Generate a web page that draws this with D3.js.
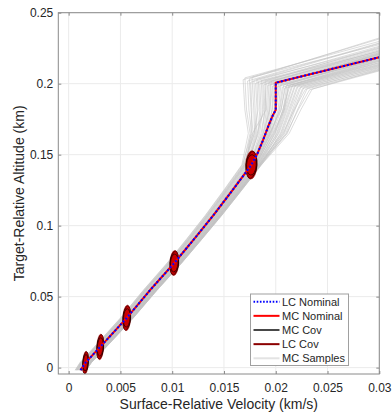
<!DOCTYPE html>
<html>
<head>
<meta charset="utf-8">
<script src="https://cdn.jsdelivr.net/npm/d3@7"></script>
<style>
  html, body { margin: 0; padding: 0; background: #fff; }
  svg { display: block; font-family: "Liberation Sans", Arial, Helvetica, sans-serif; }
</style>
</head>
<body>
<svg id="chart" width="392" height="417"></svg>
<script>
// ---- Data -----------------------------------------------------------------
// Nominal descent trajectory (surface-relative velocity km/s, target-relative altitude km)
const nomVel = [0.00115, 0.00163, 0.00305, 0.00561, 0.00788, 0.01020, 0.01209, 0.01397, 0.01581, 0.01765,
                0.01823, 0.01876, 0.01929, 0.01973, 0.02000, 0.02000, 0.03000];
const nomAlt = [-0.0018, 0.0035, 0.0146, 0.0350, 0.0547, 0.0737, 0.0903, 0.1072, 0.1248, 0.1428,
                0.1508, 0.1600, 0.1702, 0.1780, 0.1815, 0.2007, 0.2186];

// Covariance ellipse centres and half-widths
const covVel  = [0.00163, 0.00305, 0.00561, 0.01020, 0.01765];
const covAlt  = [0.0035, 0.0146, 0.0350, 0.0737, 0.1428];
const covSigV = [0.00027, 0.00033, 0.00038, 0.00043, 0.00055];
const covSigH = [0.0080, 0.0090, 0.0090, 0.0088, 0.0100];
// Layers drawn at every covariance point (relative scale and tilt in degrees)
const covLayerScaleV = [1.00, 0.90, 0.80, 0.95, 0.70, 0.85];
const covLayerScaleH = [1.00, 0.95, 0.88, 0.80, 0.92, 0.72];
const covLayerTilt   = [3, 6, 8, 2, 5, 4];
const covLayerKind   = ["LC", "MC", "LC", "MC", "LC", "MC"];

// Monte Carlo samples
const mcGrowth = [0.80, 0.82, 0.86, 0.92, 0.98, 1.04, 1.10, 1.18, 1.28, 1.40];
const mcSpread = [-0.00066, -0.00057, -0.00062, -0.00046, -0.00040, -0.00052, -0.00033, -0.00027, -0.00043, -0.00018,
                  -0.00036, -0.00012, -0.00024, -0.00008, -0.00050, -0.00015, 0.00003, -0.00005, 0.00009, 0.00016,
                  -0.00010, 0.00021, 0.00006, 0.00028, 0.00013, 0.00034, 0.00002, 0.00024, 0.00039, 0.00020,
                  0.00031, 0.00011, 0.00043, 0.00027, 0.00048, 0.00036, 0.00052, 0.00042, 0.00057, 0.00046,
                  0.00063, 0.00054, 0.00060, 0.00066, 0.00058, 0.00068, 0.00050, 0.00064, 0.00055, 0.00069];
const mcMidAlt = 0.165;
const mcMidVel = [0.01735, 0.01752, 0.01768, 0.01781, 0.01760, 0.01795, 0.01803, 0.01812, 0.01790, 0.01826,
                  0.01834, 0.01845, 0.01821, 0.01858, 0.01776, 0.01869, 0.01882, 0.01893, 0.01901, 0.01914,
                  0.01878, 0.01925, 0.01907, 0.01938, 0.01930, 0.01946, 0.01919, 0.01955, 0.01962, 0.01949,
                  0.01971, 0.01940, 0.01983, 0.01977, 0.01990, 0.01996, 0.02008, 0.02015, 0.02024, 0.02031,
                  0.02045, 0.02052, 0.02061, 0.02077, 0.02085, 0.02098, 0.02069, 0.02112, 0.02105, 0.02130];
const mcBendAlt = 0.1815;
const mcBendVel = [0.01702, 0.01718, 0.01741, 0.01762, 0.01770, 0.01788, 0.01801, 0.01820, 0.01829, 0.01846,
                   0.01858, 0.01873, 0.01884, 0.01896, 0.01905, 0.01896, 0.01909, 0.01922, 0.01934, 0.01944,
                   0.01942, 0.01962, 0.01967, 0.01984, 0.01990, 0.02003, 0.02003, 0.02022, 0.02033, 0.02039,
                   0.02052, 0.02050, 0.02071, 0.02076, 0.02084, 0.02067, 0.02080, 0.02091, 0.02101, 0.02111,
                   0.02124, 0.02135, 0.02145, 0.02161, 0.02172, 0.02185, 0.02178, 0.02209, 0.02216, 0.02241];
const mcKneeVel = [0.01685, 0.01702, 0.01728, 0.01745, 0.01758, 0.01771, 0.01789, 0.01805, 0.01818, 0.01832,
                   0.01846, 0.01860, 0.01874, 0.01885, 0.01897, 0.01908, 0.01921, 0.01935, 0.01948, 0.01957,
                   0.01969, 0.01978, 0.01992, 0.02004, 0.02015, 0.02027, 0.02039, 0.02051, 0.02063, 0.02078,
                   0.02086, 0.02097, 0.02109, 0.02118, 0.02124, 0.02138, 0.02152, 0.02166, 0.02178, 0.02191,
                   0.02203, 0.02217, 0.02229, 0.02244, 0.02258, 0.02271, 0.02286, 0.02305, 0.02327, 0.02352];
const mcKneeAlt = [0.2028, 0.2041, 0.2019, 0.2035, 0.2010, 0.2046, 0.2024, 0.2003, 0.2031, 0.2015,
                   0.1998, 0.2022, 0.2008, 0.1992, 0.2017, 0.2002, 0.1987, 0.2011, 0.1995, 0.2019,
                   0.1982, 0.2006, 0.1993, 0.2013, 0.1979, 0.2001, 0.1988, 0.1997, 0.1975, 0.1991,
                   0.1969, 0.1984, 0.1994, 0.1972, 0.1986, 0.1988, 0.1980, 0.1994, 0.1978, 0.1990,
                   0.1975, 0.1985, 0.1970, 0.1979, 0.1965, 0.1973, 0.1960, 0.1968, 0.1957, 0.1962];
const mcEndVel = 0.03;
const mcEndAlt = [0.2315, 0.2298, 0.2287, 0.2322, 0.2264, 0.2275, 0.2251, 0.2239, 0.2283, 0.2226,
                  0.2218, 0.2247, 0.2231, 0.2209, 0.2258, 0.2214, 0.2196, 0.2232, 0.2205, 0.2221,
                  0.2188, 0.2201, 0.2212, 0.2193, 0.2178, 0.2207, 0.2184, 0.2169, 0.2175, 0.2192,
                  0.2158, 0.2166, 0.2181, 0.2149, 0.2163, 0.2148, 0.2137, 0.2158, 0.2130, 0.2143,
                  0.2122, 0.2134, 0.2113, 0.2126, 0.2102, 0.2117, 0.2094, 0.2108, 0.2090, 0.2099];

// Axes
const xTicks = [0, 0.005, 0.01, 0.015, 0.02, 0.025, 0.03];
const xTickLabels = ["0", "0.005", "0.01", "0.015", "0.02", "0.025", "0.03"];
const yTicks = [0, 0.05, 0.1, 0.15, 0.2, 0.25];
const yTickLabels = ["0", "0.05", "0.1", "0.15", "0.2", "0.25"];
const xDomain = [-0.001, 0.03];
const yDomain = [-0.0045, 0.25];

const legendLabels = ["LC Nominal", "MC Nominal", "MC Cov", "LC Cov", "MC Samples"];

// ---- Layout ----------------------------------------------------------------
const svg = d3.select("#chart");
const pL = 58.3, pT = 12.7, pR = 379.3, pB = 374;
const x = d3.scaleLinear().domain(xDomain).range([pL, pR]);
const y = d3.scaleLinear().domain(yDomain).range([pB, pT]);

const textColor = "#262626";
const axisColor = "#8a8a8a";

// grid
const grid = svg.append("g");
grid.selectAll("line.gx").data(xTicks).enter().append("line")
  .attr("x1", d => x(d)).attr("x2", d => x(d)).attr("y1", pT).attr("y2", pB)
  .attr("stroke", "#ebebeb").attr("stroke-width", 1);
grid.selectAll("line.gy").data(yTicks).enter().append("line")
  .attr("y1", d => y(d)).attr("y2", d => y(d)).attr("x1", pL).attr("x2", pR)
  .attr("stroke", "#ebebeb").attr("stroke-width", 1);

// clip
svg.append("defs").append("clipPath").attr("id", "plotClip")
  .append("rect").attr("x", pL).attr("y", pT).attr("width", pR - pL).attr("height", pB - pT);
const plot = svg.append("g").attr("clip-path", "url(#plotClip)");

const line = d3.line().x(d => x(d[0])).y(d => y(d[1]));

// Monte Carlo sample trajectories
const samples = mcSpread.map((s, i) => {
  const pts = [];
  for (let j = 0; j < mcGrowth.length; j++) pts.push([nomVel[j] + s * mcGrowth[j], nomAlt[j]]);
  pts.push([mcMidVel[i], mcMidAlt]);
  pts.push([mcBendVel[i], mcBendAlt]);
  pts.push([mcKneeVel[i], mcKneeAlt[i]]);
  pts.push([mcEndVel, mcEndAlt[i]]);
  return pts;
});
plot.append("g").selectAll("path").data(samples).enter().append("path")
  .attr("d", line).attr("fill", "none")
  .attr("stroke", "#c2c2c2").attr("stroke-width", 0.7).attr("stroke-opacity", 0.8);

// covariance ellipses
const covG = plot.append("g");
covVel.forEach((v, i) => {
  const cx = x(v), cy = y(covAlt[i]);
  const rx = x(v + covSigV[i]) - cx;
  const ry = cy - y(covAlt[i] + covSigH[i]);
  covLayerScaleV.forEach((sv, k) => {
    covG.append("ellipse")
      .attr("cx", cx).attr("cy", cy)
      .attr("rx", rx * sv).attr("ry", ry * covLayerScaleH[k])
      .attr("transform", `rotate(${covLayerTilt[k]},${cx},${cy})`)
      .attr("fill", "#cc0000")
      .attr("stroke", covLayerKind[k] === "MC" ? "#000000" : "#8b0000")
      .attr("stroke-width", 0.6);
  });
});

// nominal trajectories
const nominal = nomVel.map((v, i) => [v, nomAlt[i]]);
plot.append("path").attr("d", line(nominal)).attr("fill", "none")
  .attr("stroke", "#ff0000").attr("stroke-width", 2);
plot.append("path").attr("d", line(nominal)).attr("fill", "none")
  .attr("stroke", "#0000ff").attr("stroke-width", 2).attr("stroke-dasharray", "2,2");

// axes box
svg.append("rect").attr("x", pL).attr("y", pT).attr("width", pR - pL).attr("height", pB - pT)
  .attr("fill", "none").attr("stroke", axisColor).attr("stroke-width", 1);

function styleAxis(g) {
  g.select(".domain").remove();
  g.selectAll(".tick line").attr("stroke", axisColor);
  g.selectAll(".tick text").attr("fill", textColor).style("font-size", "12px")
    .style("font-family", "'Liberation Sans', Arial, Helvetica, sans-serif");
}
svg.append("g").attr("transform", `translate(0,${pB})`)
  .call(d3.axisBottom(x).tickValues(xTicks).tickFormat((d, i) => xTickLabels[i]).tickSize(-3).tickPadding(9.5))
  .call(styleAxis);
svg.append("g").attr("transform", `translate(0,${pT})`)
  .call(d3.axisTop(x).tickValues(xTicks).tickFormat("").tickSize(-3))
  .call(styleAxis);
svg.append("g").attr("transform", `translate(${pL},0)`)
  .call(d3.axisLeft(y).tickValues(yTicks).tickFormat((d, i) => yTickLabels[i]).tickSize(-3).tickPadding(5))
  .call(styleAxis);
svg.append("g").attr("transform", `translate(${pR},0)`)
  .call(d3.axisRight(y).tickValues(yTicks).tickFormat("").tickSize(-3))
  .call(styleAxis);

// axis titles
svg.append("text").attr("x", (pL + pR) / 2).attr("y", 408.5)
  .attr("text-anchor", "middle").attr("fill", textColor).style("font-size", "14px")
  .text("Surface-Relative Velocity (km/s)");
svg.append("text").attr("transform", `translate(24,${(pT + pB) / 2}) rotate(-90)`)
  .attr("text-anchor", "middle").attr("fill", textColor).style("font-size", "14px")
  .text("Target-Relative Altitude (km)");

// legend
const lg = svg.append("g");
const lgX = 250.5, lgY = 294, lgW = 98, lgH = 71.5;
lg.append("rect").attr("x", lgX).attr("y", lgY).attr("width", lgW).attr("height", lgH)
  .attr("fill", "#ffffff").attr("stroke", "#a0a0a0").attr("stroke-width", 1);
const lgStyles = [
  { stroke: "#0000ff", width: 2, dash: "1.6,1.6" },
  { stroke: "#ff0000", width: 2, dash: null },
  { stroke: "#1a1a1a", width: 1.6, dash: null },
  { stroke: "#8b0000", width: 2, dash: null },
  { stroke: "#e3e3e3", width: 2, dash: null }
];
legendLabels.forEach((lab, i) => {
  const ry = lgY + 7.7 + i * 14.15;
  const st = lgStyles[i];
  const l = lg.append("line").attr("x1", lgX + 3).attr("x2", lgX + 29).attr("y1", ry).attr("y2", ry)
    .attr("stroke", st.stroke).attr("stroke-width", st.width);
  if (st.dash) l.attr("stroke-dasharray", st.dash);
  lg.append("text").attr("x", lgX + 31.5).attr("y", ry).attr("dy", "0.36em")
    .attr("fill", textColor).style("font-size", "11px").text(lab);
});
</script>
</body>
</html>
